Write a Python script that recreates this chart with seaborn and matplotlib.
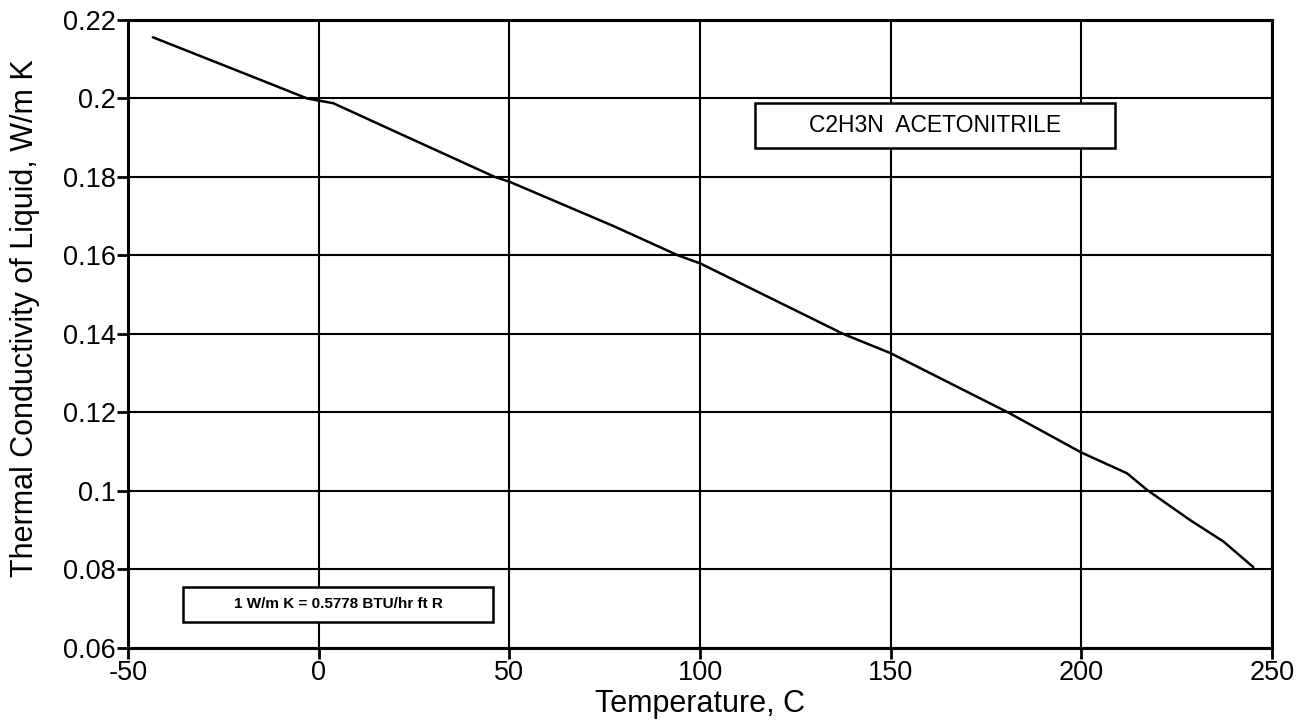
import matplotlib
matplotlib.use("Agg")
import matplotlib.pyplot as plt
import seaborn as sns
import pandas as pd
from matplotlib.patches import Rectangle

# values
temperature = [-43.5, -20.6, -3.0, 3.8, 20.0, 46.2, 50.0, 77.3, 94.3, 100.0, 137.6, 150.0,
               180.8, 200.0, 212.0, 217.2, 228.5, 237.3, 245.1]
conductivity = [0.2156, 0.2068, 0.2000, 0.1988, 0.1916, 0.1800, 0.1788, 0.1675, 0.1600, 0.1580,
                0.1400, 0.1351, 0.1200, 0.1098, 0.1045, 0.1003, 0.0926, 0.0871, 0.0806]
x_ticks = [-50, 0, 50, 100, 150, 200, 250]
y_ticks = [0.06, 0.08, 0.1, 0.12, 0.14, 0.16, 0.18, 0.2, 0.22]
y_labels = ["0.06", "0.08", "0.1", "0.12", "0.14", "0.16", "0.18", "0.2", "0.22"]

df = pd.DataFrame({"T": temperature, "k": conductivity})

sns.set_style("ticks")
plt.rcParams["font.family"] = ["Liberation Sans", "DejaVu Sans"]
plt.rcParams["axes.unicode_minus"] = False
plt.rcParams["text.color"] = "black"
plt.rcParams["axes.labelcolor"] = "black"

fig, ax = plt.subplots(figsize=(13.12, 7.24), dpi=100)
fig.subplots_adjust(left=0.0976, right=0.9695, top=0.9724, bottom=0.105)

sns.lineplot(data=df, x="T", y="k", ax=ax, color="black", linewidth=1.8)

ax.set_xlim(-50, 250)
ax.set_ylim(0.06, 0.22)
ax.set_xticks(x_ticks)
ax.set_yticks(y_ticks)
ax.set_yticklabels(y_labels)
ax.grid(True, color="black", linewidth=1.5)
for s in ax.spines.values():
    s.set_visible(True)
    s.set_linewidth(2.2)
    s.set_color("black")
ax.tick_params(axis="both", direction="out", length=8, width=2, labelsize=19.5, pad=1, colors="black")
ax.tick_params(top=False, right=False)

ax.set_xlabel("Temperature, C", fontsize=22, labelpad=2)
ax.set_ylabel("Thermal Conductivity of Liquid, W/m K", fontsize=22)
ax.yaxis.set_label_coords(-0.077, 0.525)

# annotation boxes
ax.add_patch(Rectangle((114.4, 0.1874), 94.5, 0.0115, facecolor="white", edgecolor="black",
                       linewidth=1.8, zorder=4))
ax.text(161.6, 0.1932, "C2H3N  ACETONITRILE", fontsize=16.5, ha="center", va="center", zorder=5)

ax.add_patch(Rectangle((-35.6, 0.0666), 81.3, 0.0090, facecolor="white", edgecolor="black",
                       linewidth=1.8, zorder=4))
ax.text(5.1, 0.0711, "1 W/m K = 0.5778 BTU/hr ft R", fontsize=11, fontweight="bold",
        ha="center", va="center", zorder=5)

fig.savefig("out.png", dpi=100)
